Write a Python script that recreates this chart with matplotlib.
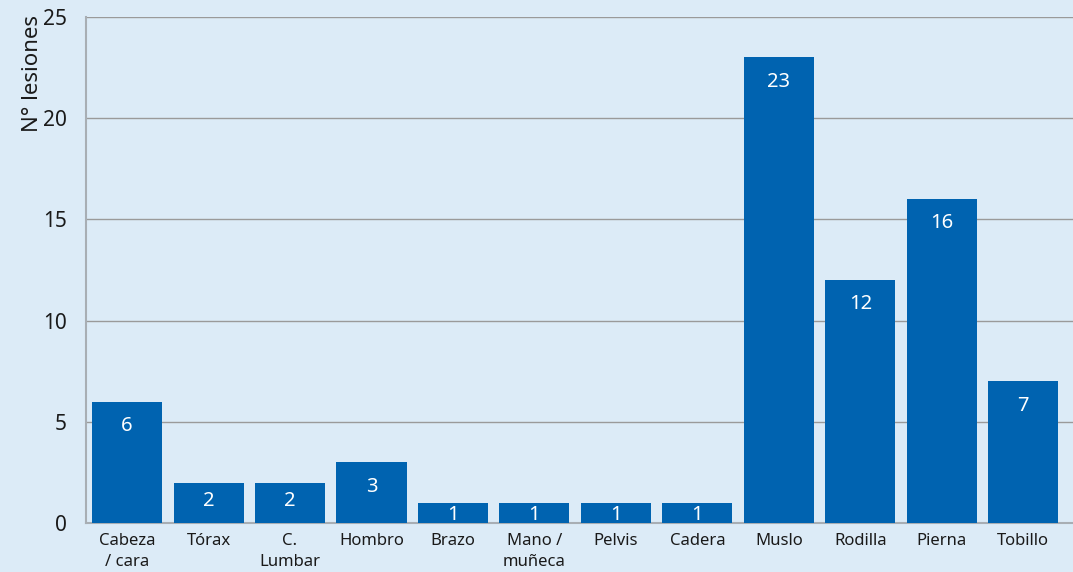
import matplotlib
matplotlib.use("Agg")
import matplotlib.pyplot as plt

categories = ["Cabeza\n/ cara", "Tórax", "C.\nLumbar", "Hombro", "Brazo", "Mano /\nmuñeca",
              "Pelvis", "Cadera", "Muslo", "Rodilla", "Pierna", "Tobillo"]
lesiones = [6, 2, 2, 3, 1, 1, 1, 1, 23, 12, 16, 7]
y_ticks = [0, 5, 10, 15, 20, 25]

BG = "#DCEBF7"
BAR = "#0063B0"
GRID = "#9A9A9A"

plt.rcParams["font.family"] = ["Noto Sans", "DejaVu Sans"]

fig = plt.figure(figsize=(10.73, 5.72), dpi=100, facecolor=BG)
ax = fig.add_axes([86 / 1073, 1 - 523 / 572, 1 - 86 / 1073, (523 - 17) / 572])
ax.set_facecolor(BG)

x = range(len(categories))
ax.bar(x, lesiones, width=0.86, color=BAR, zorder=3)

for xi, v in zip(x, lesiones):
    off = min(1.2, 0.3 + 0.3 * v)
    ax.text(xi, v - off, str(v), ha="center", va="center", color="white",
            fontsize=14.5, zorder=4)

ax.set_xlim(-0.504, 11.61)
ax.set_ylim(0, 25)
ax.set_yticks(y_ticks)
ax.set_xticks(list(x))
ax.set_xticklabels(categories, fontsize=12, color="#1a1a1a", linespacing=1.4)
ax.tick_params(axis="y", length=0, pad=14, labelsize=15, labelcolor="#1a1a1a")
ax.tick_params(axis="x", length=0, pad=7)

ax.grid(axis="y", color=GRID, linewidth=1, zorder=0)
for side in ["top", "right"]:
    ax.spines[side].set_visible(False)
ax.spines["left"].set_color("#A8AEB4")
ax.spines["bottom"].set_color("#A8AEB4")
ax.spines["left"].set_linewidth(1.5)
ax.spines["bottom"].set_linewidth(1.5)

fig.text(32 / 1073, 1 - 74 / 572, "N° lesiones", rotation=90, ha="center", va="center",
         fontsize=16, color="#1a1a1a")

fig.savefig("out.png", dpi=100, facecolor=BG)
